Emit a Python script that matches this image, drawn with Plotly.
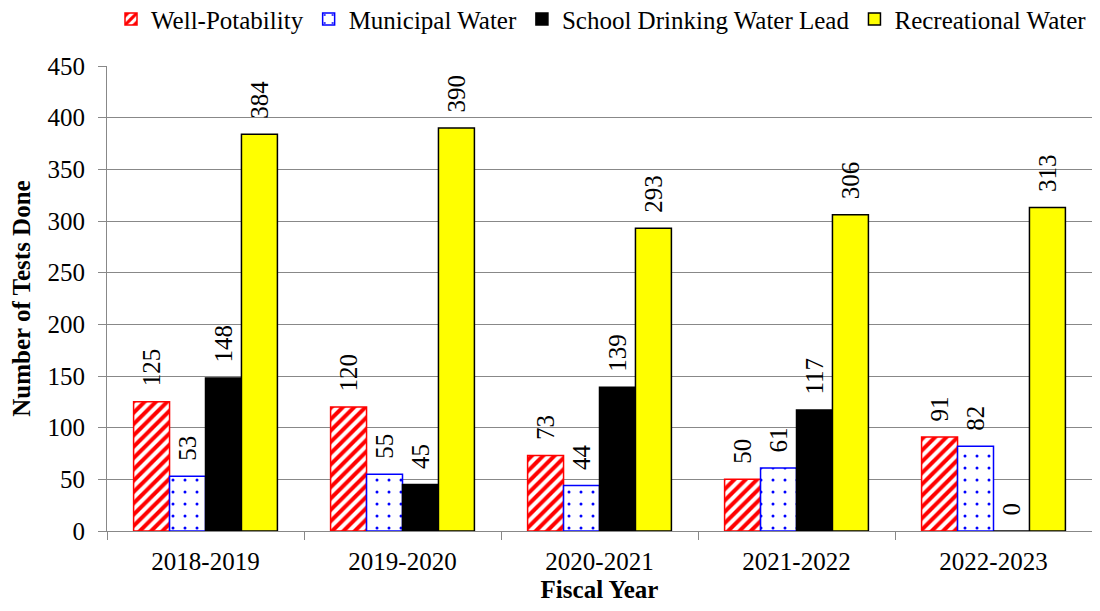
import plotly.graph_objects as go

years = ["2018-2019", "2019-2020", "2020-2021", "2021-2022", "2022-2023"]
well_potability = [125, 120, 73, 50, 91]
municipal_water = [53, 55, 44, 61, 82]
school_lead = [148, 45, 139, 117, 0]
recreational_water = [384, 390, 293, 306, 313]

serif = "Times New Roman, Liberation Serif, serif"
FS = 25
font = dict(family=serif, size=FS, color="black")

fig = go.Figure()

fig.add_trace(go.Bar(
    name="Well-Potability", x=years, y=well_potability,
    marker=dict(color="white", line=dict(color="red", width=1.5),
                pattern=dict(shape="/", fgcolor="red", bgcolor="white",
                             size=8, solidity=0.5)),
))
fig.add_trace(go.Bar(
    name="Municipal Water", x=years, y=municipal_water,
    marker=dict(color="white", line=dict(color="blue", width=1.5),
                pattern=dict(shape=".", fgcolor="blue", bgcolor="white",
                             size=12, solidity=0.05)),
))
fig.add_trace(go.Bar(
    name="School Drinking Water Lead", x=years, y=school_lead,
    marker=dict(color="black", line=dict(color="black", width=1.5)),
))
fig.add_trace(go.Bar(
    name="Recreational Water", x=years, y=recreational_water,
    marker=dict(color="#FFFF00", line=dict(color="black", width=1.5)),
))

fig.update_traces(
    textposition="outside", textangle=-90, cliponaxis=False,
    constraintext="none",
    texttemplate="  %{y}",
    textfont=font, outsidetextfont=font,
)

# the page body has an 8px margin, so the figure is sized to fit inside it
fig.update_layout(
    template="none",
    width=1084, height=595,
    margin=dict(l=99, r=0, t=58, b=72, autoexpand=False),
    paper_bgcolor="white", plot_bgcolor="white",
    font=font,
    barmode="group", bargap=0.27, bargroupgap=0,
    uniformtext=dict(mode=False),
    legend=dict(orientation="h", x=1.0, xanchor="right", y=1.15,
                yanchor="top", itemwidth=30, traceorder="normal",
                font=font),
    xaxis=dict(
        title=dict(text="<b>Fiscal Year</b>", font=font, standoff=14),
        showline=True, linecolor="#888888", linewidth=1,
        ticks="outside", ticklen=8, tickcolor="#888888",
        tickson="boundaries", ticklabelstandoff=8, tickfont=font,
        showgrid=False, zeroline=False,
    ),
    yaxis=dict(
        title=dict(text="<b>Number of Tests Done</b>", font=font, standoff=12),
        range=[0, 450], dtick=50,
        showline=True, linecolor="#888888", linewidth=1,
        ticks="outside", ticklen=8, tickcolor="#888888",
        showgrid=True, gridcolor="#888888", gridwidth=1,
        zeroline=False, ticklabelstandoff=8, tickfont=font,
    ),
)

fig.write_html("out.html")
